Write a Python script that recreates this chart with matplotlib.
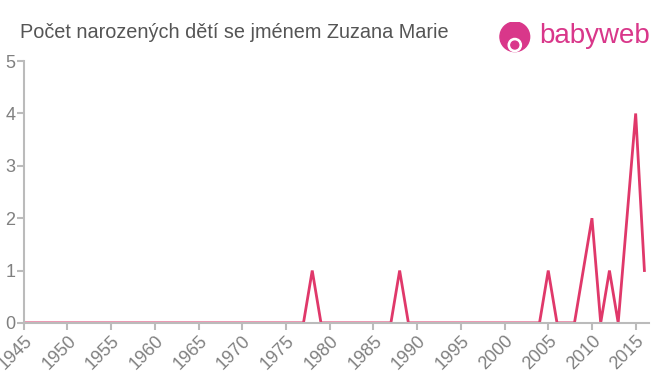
import matplotlib
matplotlib.use("Agg")
import matplotlib.pyplot as plt
from matplotlib.patches import Circle

years = list(range(1945, 2017))
peaks = {1978: 1, 1988: 1, 2005: 1, 2009: 1, 2010: 2, 2012: 1, 2014: 2, 2015: 4, 2016: 1}
counts = [peaks.get(y, 0) for y in years]
xticks = list(range(1945, 2016, 5))
yticks = [0, 1, 2, 3, 4, 5]
title = "Počet narozených dětí se jménem Zuzana Marie"

plt.rcParams["font.family"] = ["Liberation Sans", "DejaVu Sans"]
fig = plt.figure(figsize=(6.6, 3.75), dpi=100)
ax = fig.add_axes([0.036, 0.139, 0.947, 0.698])
ax.plot(years, counts, color="#e0386a", lw=2, solid_joinstyle="miter")
ax.set_xlim(1945, 2016.5)
ax.set_ylim(0, 5)
ax.set_xticks(xticks)
ax.set_yticks(yticks)
ax.set_xticklabels([str(x) for x in xticks], rotation=45, ha="right", rotation_mode="anchor")
for s in ["top", "right"]:
    ax.spines[s].set_visible(False)
for s in ["left", "bottom"]:
    ax.spines[s].set_color("#bbbbbb")
    ax.spines[s].set_linewidth(1.5)
ax.tick_params(axis="both", colors="#bbbbbb", labelcolor="#808080", labelsize=13, length=5, width=1.5)
ax.tick_params(axis="x", pad=2)
ax.tick_params(axis="y", pad=1)
fig.text(0.03, 0.912, title, fontsize=14.3, color="#555555", va="center", ha="left")

# logo
lc = "#d9378a"
fig.text(0.817, 0.905, "babyweb", fontsize=20, color=lc, va="center", ha="left")
lax = fig.add_axes([0.755, 0.835, 0.05, 0.125])
lax.set_xlim(0, 1); lax.set_ylim(0, 1); lax.set_aspect("equal"); lax.axis("off")
lax.add_patch(Circle((0.5, 0.55), 0.45, color=lc))
lax.add_patch(Circle((0.5, 0.3), 0.2, color="white"))
lax.add_patch(Circle((0.5, 0.3), 0.12, color=lc))
fig.savefig("out.png", dpi=100, facecolor="white")
